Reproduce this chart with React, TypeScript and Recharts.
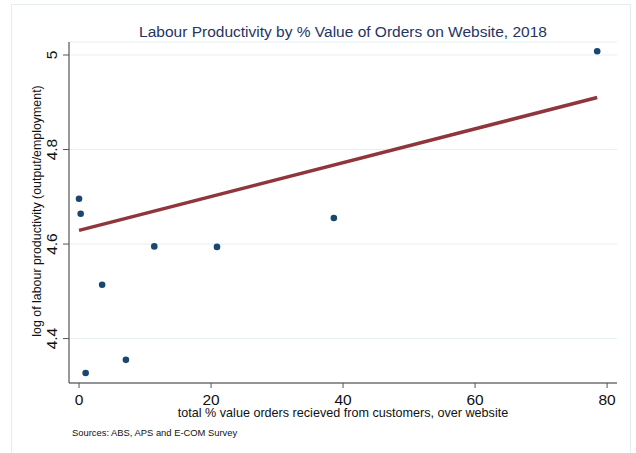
import React from 'react';
import { CartesianGrid, Scatter, ScatterChart, Text, XAxis, YAxis } from 'recharts';

// web sales share (%) vs log labour productivity, by industry
const webShare = [0, 0.25, 1, 3.5, 7.1, 11.4, 20.9, 38.6, 78.5];
const logProductivity = [4.696, 4.664, 4.327, 4.514, 4.355, 4.595, 4.594, 4.655, 5.008];

// fitted line end points
const fitShare = [0, 78.5];
const fitValue = [4.629, 4.91];

const xTicks = [0, 20, 40, 60, 80];
const yTicks = [4.4, 4.6, 4.8, 5];

const points = webShare.map((x, i) => ({ x, y: logProductivity[i] }));
const fitLine = fitShare.map((x, i) => ({ x, y: fitValue[i] }));

const FONT = 'Arial, "Liberation Sans", sans-serif';
const NAVY = '#1a476f';
const MAROON = '#90353b';

const YTick = (props: any) => {
  const { y, payload } = props;
  return (
    <text
      x={52}
      y={y}
      transform={`rotate(-90, 52, ${y})`}
      textAnchor="middle"
      dominantBaseline="central"
      fontSize={15.5}
      fontFamily={FONT}
      fill="#111"
    >
      {payload.value}
    </text>
  );
};

const XTick = (props: any) => {
  const { x, payload } = props;
  return (
    <text x={x} y={399} textAnchor="middle" dominantBaseline="central" fontSize={15.5} fontFamily={FONT} fill="#111">
      {payload.value}
    </text>
  );
};

const Dot = (props: any) => <circle cx={props.cx} cy={props.cy} r={3.3} fill={NAVY} />;

export default function App() {
  return (
    <div style={{ position: 'absolute', left: 0, top: 0, width: 636, height: 453, overflow: 'hidden', background: '#fff' }}>
      <div
        style={{
          position: 'absolute',
          left: 11,
          top: 4,
          width: 620,
          height: 460,
          border: '1px solid #e4edef',
          boxSizing: 'border-box',
        }}
      />
      <ScatterChart
        width={636}
        height={453}
        margin={{ top: 42, right: 19, bottom: 40, left: 29 }}
        style={{ position: 'absolute', left: 0, top: 0 }}
      >
        <CartesianGrid horizontal vertical={false} stroke="#e6eff2" strokeWidth={1} />
        <XAxis
          type="number"
          dataKey="x"
          domain={[-1.52, 81.5]}
          ticks={xTicks}
          allowDataOverflow
          height={30}
          tickSize={5}
          tick={<XTick />}
          axisLine={{ stroke: '#333' }}
          tickLine={{ stroke: '#555' }}
        />
        <YAxis
          type="number"
          dataKey="y"
          domain={[4.306, 5.0275]}
          ticks={yTicks}
          allowDataOverflow
          width={40}
          tickSize={6}
          tick={<YTick />}
          axisLine={{ stroke: '#333' }}
          tickLine={{ stroke: '#555' }}
        />
        <Scatter data={points} shape={<Dot />} isAnimationActive={false} />
        <Scatter
          data={fitLine}
          line={{ stroke: MAROON, strokeWidth: 3.5 }}
          shape={() => <g />}
          isAnimationActive={false}
        />
        <Text x={343} y={31} textAnchor="middle" verticalAnchor="middle" fontSize={15.5} fontFamily={FONT} fill="#253563">
          Labour Productivity by % Value of Orders on Website, 2018
        </Text>
        <text
          x={37}
          y={211}
          transform="rotate(-90, 37, 211)"
          textAnchor="middle"
          dominantBaseline="central"
          fontSize={12.4}
          fontFamily={FONT}
          fill="#111"
        >
          log of labour productivity (output/employment)
        </text>
        <text x={343} y={413} textAnchor="middle" dominantBaseline="central" fontSize={12.6} fontFamily={FONT} fill="#111">
          total % value orders recieved from customers, over website
        </text>
        <text x={72} y={432} dominantBaseline="central" fontSize={9.4} fontFamily={FONT} fill="#111">
          Sources: ABS, APS and E-COM Survey
        </text>
      </ScatterChart>
    </div>
  );
}
